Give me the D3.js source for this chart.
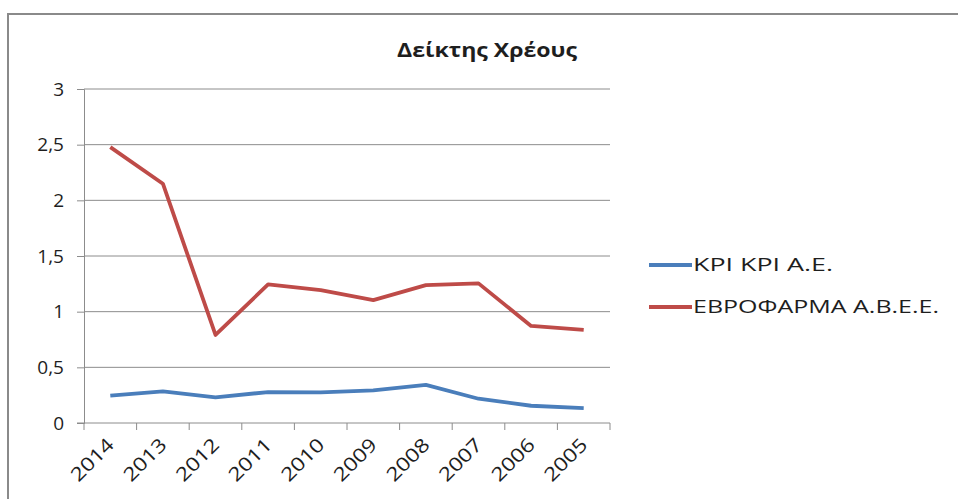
<!DOCTYPE html>
<html>
<head>
	<meta charset="utf-8">
	<title>Δείκτης Χρέους</title>
	<style type="text/css">
		body{ margin:0; background:#fff; }
		.chart text{ font-family:"Open Sans", "DejaVu Sans", sans-serif; fill:#1e1e1e; }
	</style>
</head>
<body>
	<svg width=958 height=499 class="chart"></svg>
	<script type="text/javascript" src="https://cdn.jsdelivr.net/npm/d3@7/dist/d3.min.js"></script>
	<script type="text/javascript">

		years = ['2014','2013','2012','2011','2010','2009','2008','2007','2006','2005']
		kriKri = [0.245, 0.284, 0.23, 0.278, 0.275, 0.293, 0.343, 0.218, 0.155, 0.134]
		evrofarma = [2.478, 2.149, 0.791, 1.245, 1.194, 1.104, 1.239, 1.254, 0.872, 0.836]
		seriesNames = ['ΚΡΙ ΚΡΙ Α.Ε.', 'ΕΒΡΟΦΑΡΜΑ Α.Β.Ε.Ε.']
		seriesColors = ['#4a7ebb', '#be4b48']
		yTicks = [0, 0.5, 1, 1.5, 2, 2.5, 3]

		margin = {'top':89, 'left':84}
		plotW = 610 - 84
		plotH = 423 - 89

		svg = d3.select('.chart')

		// chart frame (only top and left edges show)
		svg.append('line').attr('x1', 8).attr('x2', 958).attr('y1', 14).attr('y2', 14)
			.attr('stroke', '#8a8a8a').attr('stroke-width', 2)
		svg.append('line').attr('x1', 8).attr('x2', 8).attr('y1', 13).attr('y2', 499)
			.attr('stroke', '#8a8a8a').attr('stroke-width', 2)

		svg.append('text')
			.attr('x', 487).attr('y', 57)
			.attr('text-anchor', 'middle')
			.attr('textLength', 180).attr('lengthAdjust', 'spacingAndGlyphs')
			.style('font-size', '19px').style('font-weight', 'bold')
			.text('Δείκτης Χρέους')

		x = d3.scaleBand().domain(years).range([0, plotW])
		y = d3.scaleLinear().domain([0, 3]).range([plotH, 0])

		g = svg.append('g').attr('transform', 'translate('+margin.left+','+margin.top+')')

		// grid
		g.selectAll('.grid').data(yTicks.slice(1)).enter()
			.append('line')
			.attr('x1', 0).attr('x2', plotW)
			.attr('y1', function(d){ return y(d) }).attr('y2', function(d){ return y(d) })
			.attr('stroke', '#8c8c8c').attr('stroke-width', 1)

		yAxis = d3.axisLeft(y).tickValues(yTicks).tickSize(7).tickPadding(13)
			.tickFormat(function(d){ return String(d).replace('.', ',') })
		gy = g.append('g').call(yAxis)
		gy.selectAll('text').style('font-size', '19px').style('font-family', '"Open Sans", sans-serif')
		gy.select('.domain').attr('stroke', '#8c8c8c')
		gy.selectAll('.tick line').attr('stroke', '#8c8c8c')

		// x axis, ticks between categories
		g.append('line').attr('x1', -7).attr('x2', plotW).attr('y1', plotH).attr('y2', plotH)
			.attr('stroke', '#8c8c8c')
		boundaries = years.map(function(d){ return x(d) }).concat([plotW])
		g.selectAll('.xt').data(boundaries).enter()
			.append('line')
			.attr('x1', function(d){ return d }).attr('x2', function(d){ return d })
			.attr('y1', plotH).attr('y2', plotH + 7)
			.attr('stroke', '#8c8c8c')
		g.selectAll('.xl').data(years).enter()
			.append('text')
			.attr('transform', function(d){
				return 'translate('+(x(d) + x.bandwidth()/2 + 5)+','+(plotH + 23)+') rotate(-45)'
			})
			.attr('text-anchor', 'end')
			.attr('textLength', 52).attr('lengthAdjust', 'spacingAndGlyphs')
			.style('font-size', '19px')
			.text(function(d){ return d })

		line = d3.line()
			.x(function(d, i){ return x(years[i]) + x.bandwidth()/2 })
			.y(function(d){ return y(d) })

		;[kriKri, evrofarma].forEach(function(vals, i){
			g.append('path')
				.datum(vals)
				.attr('d', line)
				.attr('fill', 'none')
				.attr('stroke', seriesColors[i])
				.attr('stroke-width', 3.8)
				.attr('stroke-linejoin', 'round')
		})

		// legend
		legendWidths = [140, 246]
		leg = svg.append('g').selectAll('g').data(seriesNames).enter()
			.append('g')
			.attr('transform', function(d, i){ return 'translate(649,'+(265 + i*42)+')' })
		leg.append('line').attr('x1', 0).attr('x2', 43).attr('y1', 0).attr('y2', 0)
			.attr('stroke', function(d, i){ return seriesColors[i] }).attr('stroke-width', 3.8)
		leg.append('text').attr('x', 44).attr('dy', '0.36em')
			.attr('textLength', function(d, i){ return legendWidths[i] })
			.attr('lengthAdjust', 'spacingAndGlyphs')
			.style('font-size', '18px')
			.text(function(d){ return d })

	</script>
</body>
</html>
